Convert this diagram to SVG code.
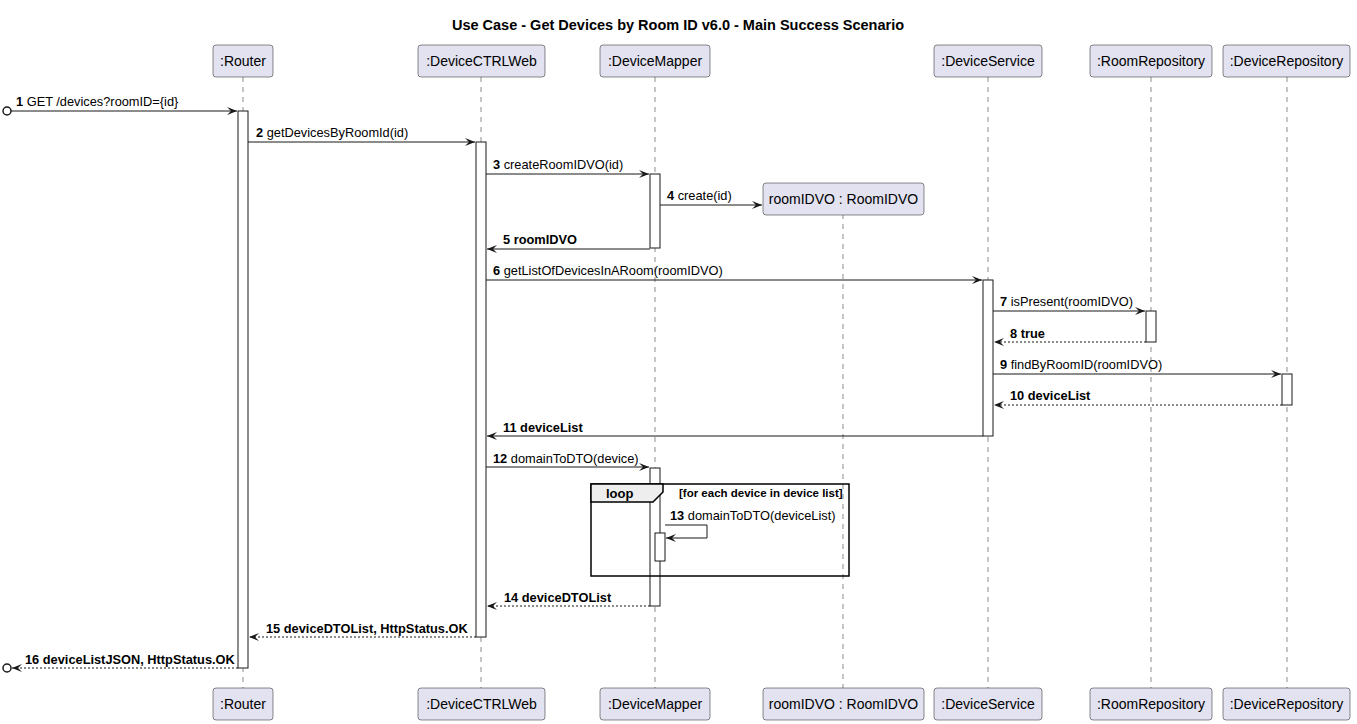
<svg xmlns="http://www.w3.org/2000/svg" width="1357" height="724" viewBox="0 0 1357 724">
<style>
text{font-family:"Liberation Sans",Arial,sans-serif;fill:#000}
.title{font-size:14.5px;font-weight:bold}
.pbox{fill:#E2E2F0;stroke:#181818;stroke-width:0.5}
.pname{font-size:14px;text-anchor:middle}
.life{stroke:#181818;stroke-width:0.5;stroke-dasharray:5,5}
.act{fill:#FFFFFF;stroke:#181818;stroke-width:1}
.msg{stroke:#181818;stroke-width:1;fill:none}
.ret{stroke:#181818;stroke-width:1;fill:none;stroke-dasharray:2,2}
.lbl{font-size:12.8px}
.b{font-weight:bold}
.loopbox{fill:none;stroke:#000;stroke-width:1.5}
.looptab{fill:#EEEEEE;stroke:#000;stroke-width:1.5}
</style>
<defs>
<marker id="ah" markerUnits="userSpaceOnUse" markerWidth="12" markerHeight="10" refX="10" refY="4" orient="auto">
<path d="M0,0 L10,4 L0,8 L4,4 Z" fill="#181818"/>
</marker>
</defs>
<rect x="0" y="0" width="1357" height="724" fill="#FFFFFF"/>
<text class="title" x="678" y="30" text-anchor="middle">Use Case - Get Devices by Room ID v6.0 - Main Success Scenario</text>

<g id="router">
<line class="life" x1="243" y1="77" x2="243" y2="688"/>
<rect class="pbox" x="213" y="45" width="60" height="32" rx="3"/>
<text class="pname" x="243" y="66">:Router</text>
<rect class="pbox" x="213" y="688" width="60" height="32" rx="3"/>
<text class="pname" x="243" y="709">:Router</text>
</g>
<g id="devicectrlweb">
<line class="life" x1="481" y1="77" x2="481" y2="688"/>
<rect class="pbox" x="418" y="45" width="127" height="32" rx="3"/>
<text class="pname" x="481.5" y="66">:DeviceCTRLWeb</text>
<rect class="pbox" x="418" y="688" width="127" height="32" rx="3"/>
<text class="pname" x="481.5" y="709">:DeviceCTRLWeb</text>
</g>
<g id="devicemapper">
<line class="life" x1="655" y1="77" x2="655" y2="688"/>
<rect class="pbox" x="600" y="45" width="110" height="32" rx="3"/>
<text class="pname" x="655" y="66">:DeviceMapper</text>
<rect class="pbox" x="600" y="688" width="110" height="32" rx="3"/>
<text class="pname" x="655" y="709">:DeviceMapper</text>
</g>
<g id="roomidvo">
<line class="life" x1="843" y1="214" x2="843" y2="688"/>
<rect class="pbox" x="763" y="183" width="161" height="32" rx="3"/>
<text class="pname" x="843.5" y="204">roomIDVO : RoomIDVO</text>
<rect class="pbox" x="763" y="688" width="161" height="32" rx="3"/>
<text class="pname" x="843.5" y="709">roomIDVO : RoomIDVO</text>
</g>
<g id="deviceservice">
<line class="life" x1="988" y1="77" x2="988" y2="688"/>
<rect class="pbox" x="934" y="45" width="108" height="32" rx="3"/>
<text class="pname" x="988" y="66">:DeviceService</text>
<rect class="pbox" x="934" y="688" width="108" height="32" rx="3"/>
<text class="pname" x="988" y="709">:DeviceService</text>
</g>
<g id="roomrepository">
<line class="life" x1="1151" y1="77" x2="1151" y2="688"/>
<rect class="pbox" x="1090" y="45" width="122" height="32" rx="3"/>
<text class="pname" x="1151" y="66">:RoomRepository</text>
<rect class="pbox" x="1090" y="688" width="122" height="32" rx="3"/>
<text class="pname" x="1151" y="709">:RoomRepository</text>
</g>
<g id="devicerepository">
<line class="life" x1="1287" y1="77" x2="1287" y2="688"/>
<rect class="pbox" x="1223" y="45" width="127" height="32" rx="3"/>
<text class="pname" x="1286.5" y="66">:DeviceRepository</text>
<rect class="pbox" x="1223" y="688" width="127" height="32" rx="3"/>
<text class="pname" x="1286.5" y="709">:DeviceRepository</text>
</g>

<g id="activations">
<rect class="act" x="238" y="111" width="10" height="557"/>
<rect class="act" x="476" y="142" width="10" height="495"/>
<rect class="act" x="650" y="174" width="10" height="74"/>
<rect class="act" x="983" y="280" width="10" height="156"/>
<rect class="act" x="1146" y="311" width="10" height="31"/>
<rect class="act" x="1282" y="374" width="10" height="31"/>
<rect class="act" x="650" y="468" width="10" height="138"/>
<rect class="act" x="655" y="533" width="10" height="28"/>
</g>

<g id="loop">
<rect class="loopbox" x="591" y="484" width="258" height="92"/>
<path class="looptab" d="M591,484 L663,484 L663,492 L653,502 L591,502 Z"/>
<text x="606" y="498" style="font-size:13px;font-weight:bold">loop</text>
<text x="679" y="497" style="font-size:11.5px;font-weight:bold">[for each device in device list]</text>
</g>

<g id="connectors">
<circle cx="7" cy="111" r="4" fill="#FFFFFF" stroke="#181818" stroke-width="1.5"/>
<line class="msg" x1="11" y1="111" x2="237" y2="111" marker-end="url(#ah)"/>
<text class="lbl" x="16" y="106"><tspan class="b">1</tspan> GET /devices?roomID={id}</text>

<line class="msg" x1="248" y1="142" x2="475" y2="142" marker-end="url(#ah)"/>
<text class="lbl" x="256" y="137"><tspan class="b">2</tspan> getDevicesByRoomId(id)</text>

<line class="msg" x1="486" y1="174" x2="649" y2="174" marker-end="url(#ah)"/>
<text class="lbl" x="493" y="169"><tspan class="b">3</tspan> createRoomIDVO(id)</text>

<line class="msg" x1="660" y1="205" x2="762" y2="205" marker-end="url(#ah)"/>
<text class="lbl" x="667" y="200"><tspan class="b">4</tspan> create(id)</text>

<line class="msg" x1="650" y1="249" x2="487" y2="249" marker-end="url(#ah)"/>
<text class="lbl b" x="503" y="244">5 roomIDVO</text>

<line class="msg" x1="486" y1="280" x2="982" y2="280" marker-end="url(#ah)"/>
<text class="lbl" x="493" y="275"><tspan class="b">6</tspan> getListOfDevicesInARoom(roomIDVO)</text>

<line class="msg" x1="993" y1="311" x2="1145" y2="311" marker-end="url(#ah)"/>
<text class="lbl" x="1000" y="306"><tspan class="b">7</tspan> isPresent(roomIDVO)</text>

<line class="ret" x1="1146" y1="342" x2="994" y2="342" marker-end="url(#ah)"/>
<text class="lbl b" x="1010" y="338">8 true</text>

<line class="msg" x1="993" y1="374" x2="1281" y2="374" marker-end="url(#ah)"/>
<text class="lbl" x="1000" y="369"><tspan class="b">9</tspan> findByRoomID(roomIDVO)</text>

<line class="ret" x1="1282" y1="405" x2="994" y2="405" marker-end="url(#ah)"/>
<text class="lbl b" x="1010" y="400">10 deviceList</text>

<line class="msg" x1="983" y1="436" x2="487" y2="436" marker-end="url(#ah)"/>
<text class="lbl b" x="503" y="432">11 deviceList</text>

<line class="msg" x1="486" y1="467" x2="649" y2="467" marker-end="url(#ah)"/>
<text class="lbl" x="493" y="463"><tspan class="b">12</tspan> domainToDTO(device)</text>

<polyline class="msg" points="665,525 707,525 707,538 666,538" marker-end="url(#ah)"/>
<text class="lbl" x="670" y="520"><tspan class="b">13</tspan> domainToDTO(deviceList)</text>

<line class="ret" x1="650" y1="606" x2="487" y2="606" marker-end="url(#ah)"/>
<text class="lbl b" x="504" y="602">14 deviceDTOList</text>

<line class="ret" x1="476" y1="637" x2="249" y2="637" marker-end="url(#ah)"/>
<text class="lbl b" x="266" y="633">15 deviceDTOList, HttpStatus.OK</text>

<line class="ret" x1="238" y1="668" x2="12" y2="668" marker-end="url(#ah)"/>
<circle cx="7" cy="668" r="4" fill="#FFFFFF" stroke="#181818" stroke-width="1.5"/>
<text class="lbl b" x="25" y="664">16 deviceListJSON, HttpStatus.OK</text>
</g>
</svg>
